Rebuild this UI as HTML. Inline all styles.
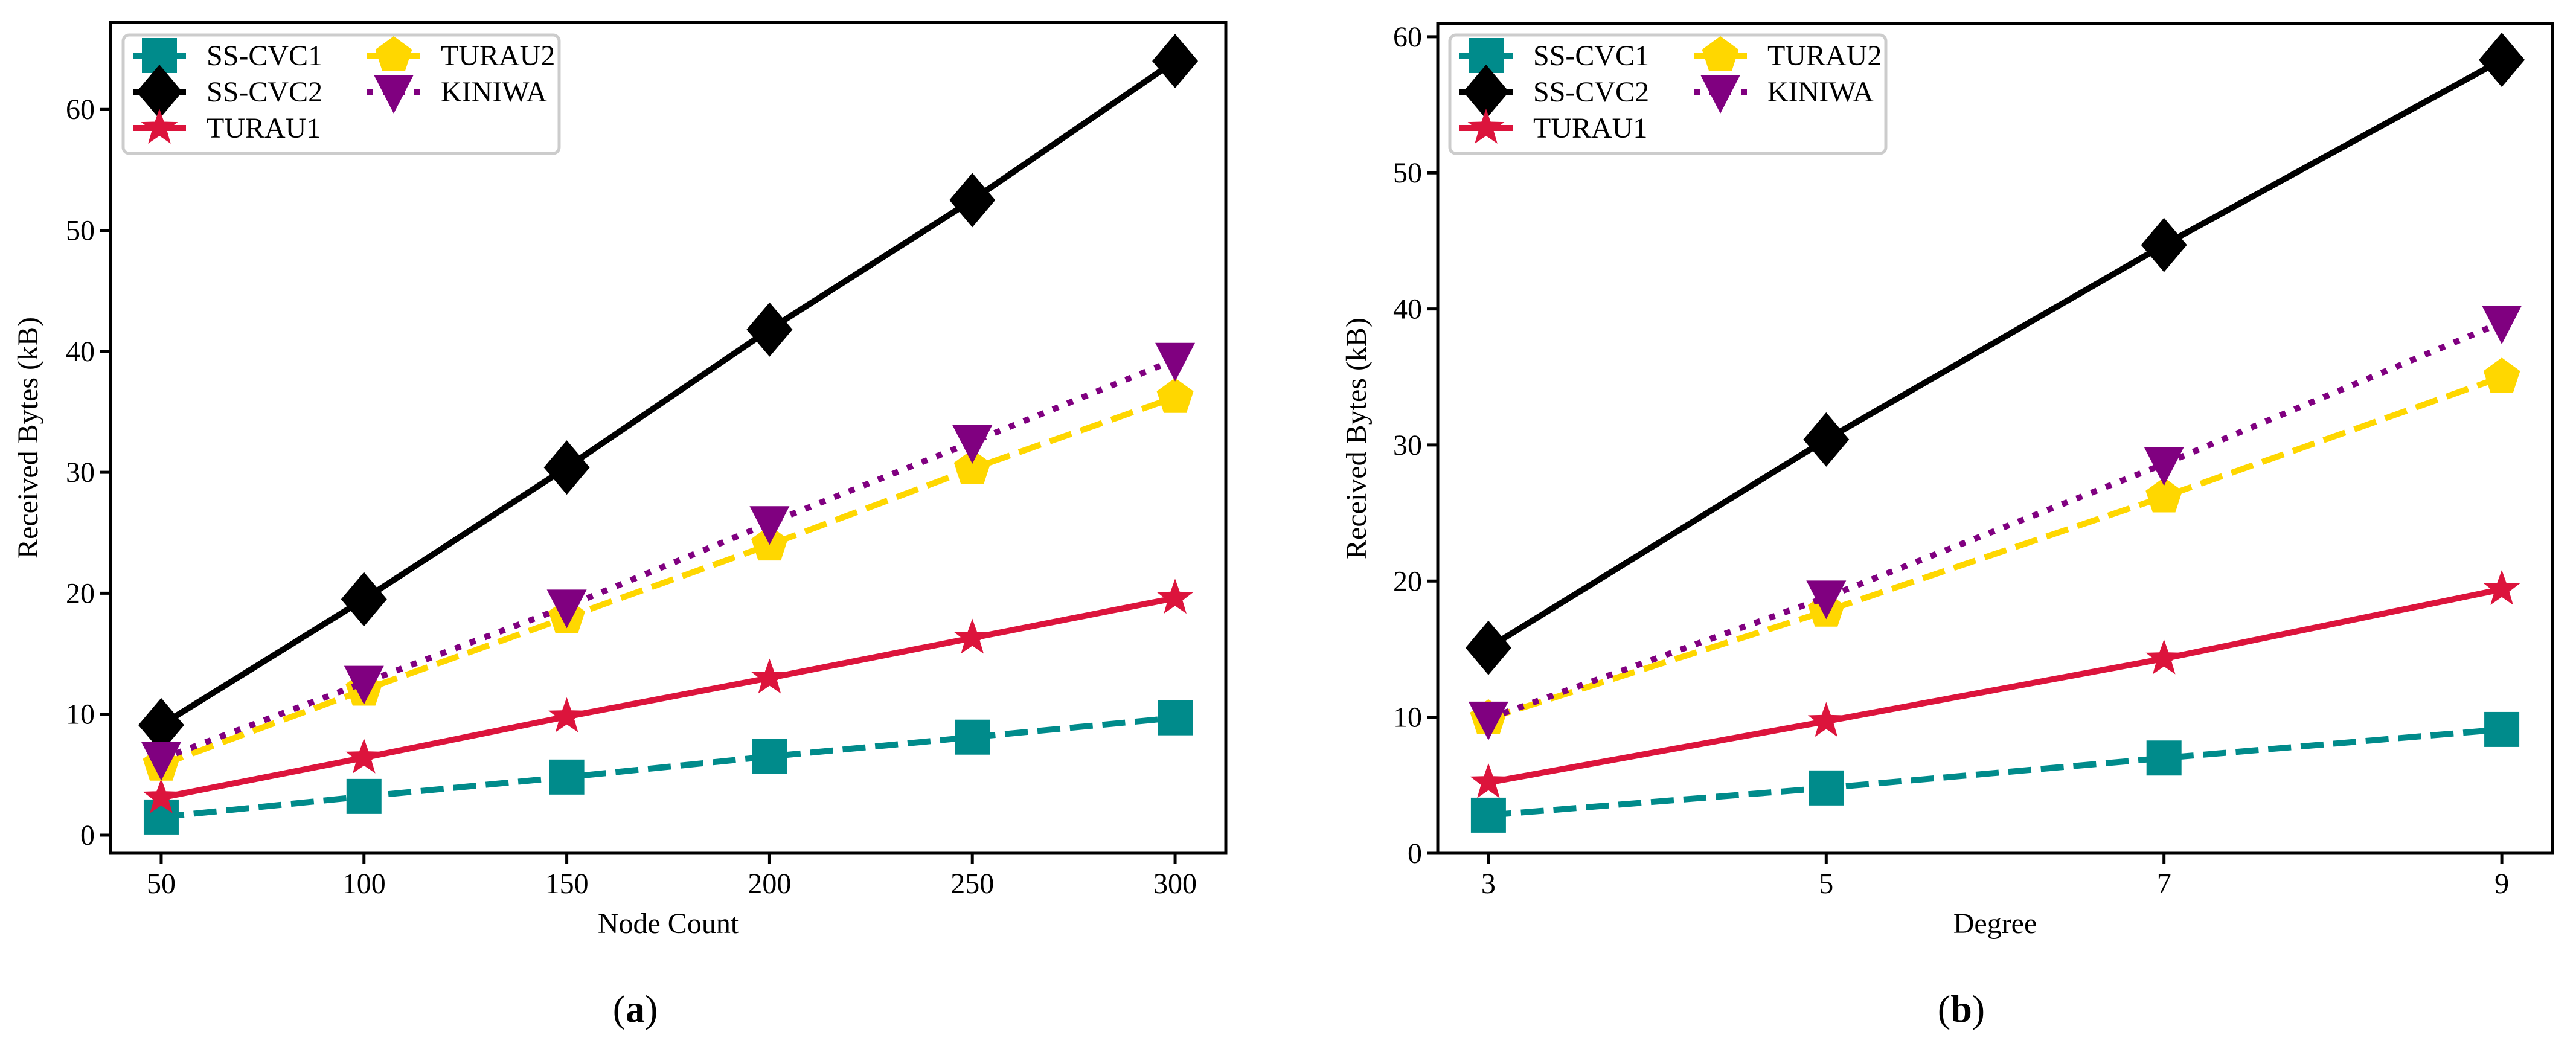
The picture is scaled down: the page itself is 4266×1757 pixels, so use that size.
<!DOCTYPE html>
<html><head><meta charset="utf-8"><style>
html,body{margin:0;padding:0;background:#fff;}
svg text{font-family:"Liberation Serif","DejaVu Serif",serif;fill:#000;}
</style></head><body>
<svg id="fig" width="4266" height="1752" viewBox="0 0 4266 1752" xmlns="http://www.w3.org/2000/svg"></svg>
<script>
// ---- data: panel (a)
const nodeCounts = [50,100,150,200,250,300];
const a_sscvc1 = [1.5,3.2,4.8,6.5,8.1,9.7];
const a_sscvc2 = [9.1,19.5,30.4,41.8,52.5,64.0];
const a_turau1 = [3.1,6.4,9.8,13.0,16.3,19.6];
const a_turau2 = [5.8,12.0,18.0,24.0,30.3,36.2];
const a_kiniwa = [6.3,12.6,18.9,25.8,32.5,39.3];
const a_yticks = [0,10,20,30,40,50,60];
// ---- data: panel (b)
const degrees = [3,5,7,9];
const b_sscvc1 = [2.8,4.8,7.0,9.1];
const b_sscvc2 = [15.1,30.4,44.7,58.3];
const b_turau1 = [5.2,9.7,14.3,19.4];
const b_turau2 = [9.9,17.8,26.2,35.0];
const b_kiniwa = [9.9,18.8,28.6,39.0];
const b_yticks = [0,10,20,30,40,50,60];
const seriesNames = ["SS-CVC1","SS-CVC2","TURAU1","TURAU2","KINIWA"];

const NS="http://www.w3.org/2000/svg";
const svg=document.getElementById('fig');
function mk(tag,attrs,parent){const e=document.createElementNS(NS,tag);for(const k in attrs)e.setAttribute(k,attrs[k]);(parent||svg).appendChild(e);return e;}

const styles=[
 {color:"#008B8B",dash:"38 16",marker:"square"},
 {color:"#000000",dash:"",marker:"diamond"},
 {color:"#DC143C",dash:"",marker:"star"},
 {color:"#FFD700",dash:"38 16",marker:"pentagon"},
 {color:"#800080",dash:"10 16",marker:"tri"}
];
function marker(g,type,x,y,color){
  let e;
  if(type==="square") e=mk('rect',{x:x-29,y:y-29,width:58,height:58,fill:color},g);
  else if(type==="diamond") e=mk('polygon',{points:`${x},${y-45} ${x+38},${y} ${x},${y+45} ${x-38},${y}`,fill:color},g);
  else if(type==="star"){let p=[];for(let i=0;i<10;i++){const r=i%2?13:32;const a=-Math.PI/2+i*Math.PI/5;p.push((x+r*Math.cos(a)).toFixed(1)+","+(y+r*Math.sin(a)).toFixed(1));}e=mk('polygon',{points:p.join(' '),fill:color},g);}
  else if(type==="pentagon"){let p=[];for(let i=0;i<5;i++){const a=-Math.PI/2+i*2*Math.PI/5;p.push((x+32*Math.cos(a)).toFixed(1)+","+(y+32*Math.sin(a)).toFixed(1));}e=mk('polygon',{points:p.join(' '),fill:color},g);}
  else e=mk('polygon',{points:`${x-33},${y-28} ${x+33},${y-28} ${x},${y+36}`,fill:color},g);
  return e;
}

function panel(cfg){
  const {L,R,T,B,xs,xmin,xmax,ymin,ymax,yticks,series,xlabel,ylabelX,cap,capX,leg,name}=cfg;
  const sx=v=>L+(v-xmin)/(xmax-xmin)*(R-L);
  const sy=v=>B-(v-ymin)/(ymax-ymin)*(B-T);
  const g=mk('g',{});
  
  
  xs.forEach(v=>{
    const t=mk('line',{x1:sx(v),x2:sx(v),y1:B,y2:B+17,stroke:'#000','stroke-width':5},g);
    
    const tx=mk('text',{x:sx(v),y:B+66,'text-anchor':'middle','font-size':48},g);
    
    tx.textContent=v;
  });
  yticks.forEach(v=>{
    const t=mk('line',{x1:L-17,x2:L,y1:sy(v),y2:sy(v),stroke:'#000','stroke-width':5},g);
    
    const tx=mk('text',{x:L-26,y:sy(v)+16,'text-anchor':'end','font-size':48},g);
    
    tx.textContent=v;
  });
  series.forEach((vals,i)=>{
    const s=styles[i];
    const sg=mk('g',{},g);
    
    
    const pts=vals.map((v,j)=>sx(xs[j]).toFixed(1)+","+sy(v).toFixed(1)).join(' ');
    const pl=mk('polyline',{points:pts,fill:'none',stroke:s.color,'stroke-width':10,'stroke-dasharray':s.dash,'stroke-linejoin':'round'},sg);
    
    
    vals.forEach((v,j)=>{
      const m=marker(sg,s.marker,sx(xs[j]),sy(v),s.color);
      
      
    });
  });
  const fr=mk('rect',{x:L,y:T,width:R-L,height:B-T,fill:'none',stroke:'#000','stroke-width':5},g);
  
  const xl=mk('text',{x:(L+R)/2,y:B+132,'text-anchor':'middle','font-size':48},g);
  
  xl.textContent=xlabel;
  const yl=mk('text',{x:ylabelX,y:(T+B)/2,'text-anchor':'middle','font-size':48,transform:`rotate(-90 ${ylabelX} ${(T+B)/2})`},g);
  
  yl.textContent="Received Bytes (kB)";
  const cp=mk('text',{x:capX,y:1692,'text-anchor':'middle','font-size':64},g);
  
  cp.innerHTML='(<tspan font-weight="bold">'+cap+'</tspan>)';
  const lg=mk('g',{},g);
  
  mk('rect',{x:leg,y:58,width:722,height:196,rx:10,fill:'#fff','fill-opacity':0.85,stroke:'#ccc','stroke-width':5},lg);
  const pos=[[0,0],[0,1],[0,2],[1,0],[1,1]];
  seriesNames.forEach((nm,i)=>{
    const [c,r]=pos[i];
    const hx=leg+(c?404:16), y=92+r*60;
    const e=mk('g',{},lg);
    
    
    mk('line',{x1:hx,x2:hx+88,y1:y,y2:y,stroke:styles[i].color,'stroke-width':10,'stroke-dasharray':styles[i].dash},e);
    marker(e,styles[i].marker,hx+44,y,styles[i].color);
    const t=mk('text',{x:hx+122,y:y+16,'font-size':48},e);
    t.textContent=nm;
  });
}

panel({name:'chart-a',L:183,R:2030,T:37,B:1413,xs:nodeCounts,xmin:37.5,xmax:312.5,ymin:-1.5,ymax:67.2,
  yticks:a_yticks,series:[a_sscvc1,a_sscvc2,a_turau1,a_turau2,a_kiniwa],xlabel:"Node Count",ylabelX:62,cap:"a",capX:1052,leg:204});
panel({name:'chart-b',L:2381,R:4227,T:39,B:1413,xs:degrees,xmin:2.7,xmax:9.3,ymin:0,ymax:60.97,
  yticks:b_yticks,series:[b_sscvc1,b_sscvc2,b_turau1,b_turau2,b_kiniwa],xlabel:"Degree",ylabelX:2262,cap:"b",capX:3248,leg:2401});
</script>
</body></html>
